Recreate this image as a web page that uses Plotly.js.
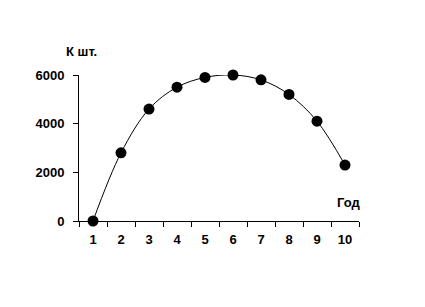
<!DOCTYPE html>
<html><head><meta charset="utf-8">
<script src="https://cdn.plot.ly/plotly-3.0.1.min.js"></script>
<style>body{margin:0;background:#fff}#c{width:425px;height:307px}</style>
</head><body><div id="c"></div>
<script>
const years = ['1','2','3','4','5','6','7','8','9','10'];
const values = [0, 2800, 4600, 5500, 5900, 6000, 5800, 5200, 4100, 2300];
const yTicks = [0, 2000, 4000, 6000];
const font = {family: 'Liberation Sans, Arial, sans-serif', size: 13, color: '#000', weight: 'bold'};
Plotly.newPlot('c', [{
  x: years, y: values, type: 'scatter', mode: 'lines+markers',
  line: {shape: 'spline', color: '#000', width: 1},
  marker: {color: '#000', size: 11},
  cliponaxis: false, hoverinfo: 'none'
}], {
  width: 425, height: 307,
  margin: {l: 79, r: 66, t: 75, b: 86},
  paper_bgcolor: '#fff', plot_bgcolor: '#fff',
  showlegend: false,
  font: font,
  xaxis: {type: 'category', range: [-0.5, 9.5], tickson: 'boundaries', ticks: 'outside', ticklen: 5, tickcolor: '#000',
    showline: true, linecolor: '#000', linewidth: 1, showgrid: false, zeroline: false,
    tickfont: font, ticklabelstandoff: 6},
  yaxis: {range: [0, 6000], tickvals: yTicks, ticktext: yTicks.map(String), ticks: 'outside', ticklen: 5, tickcolor: '#000',
    showline: true, linecolor: '#000', linewidth: 1, showgrid: false, zeroline: false,
    tickfont: font, ticklabelstandoff: 6},
  annotations: [
    {text: 'К шт.', xref: 'paper', yref: 'paper', x: 0.01, y: 1.16, xanchor: 'center', yanchor: 'middle', showarrow: false, font: font},
    {text: 'Год', xref: 'paper', yref: 'paper', x: 1.01, y: 0.13, xanchor: 'right', yanchor: 'middle', showarrow: false, font: font}
  ]
}, {staticPlot: true});
</script></body></html>
